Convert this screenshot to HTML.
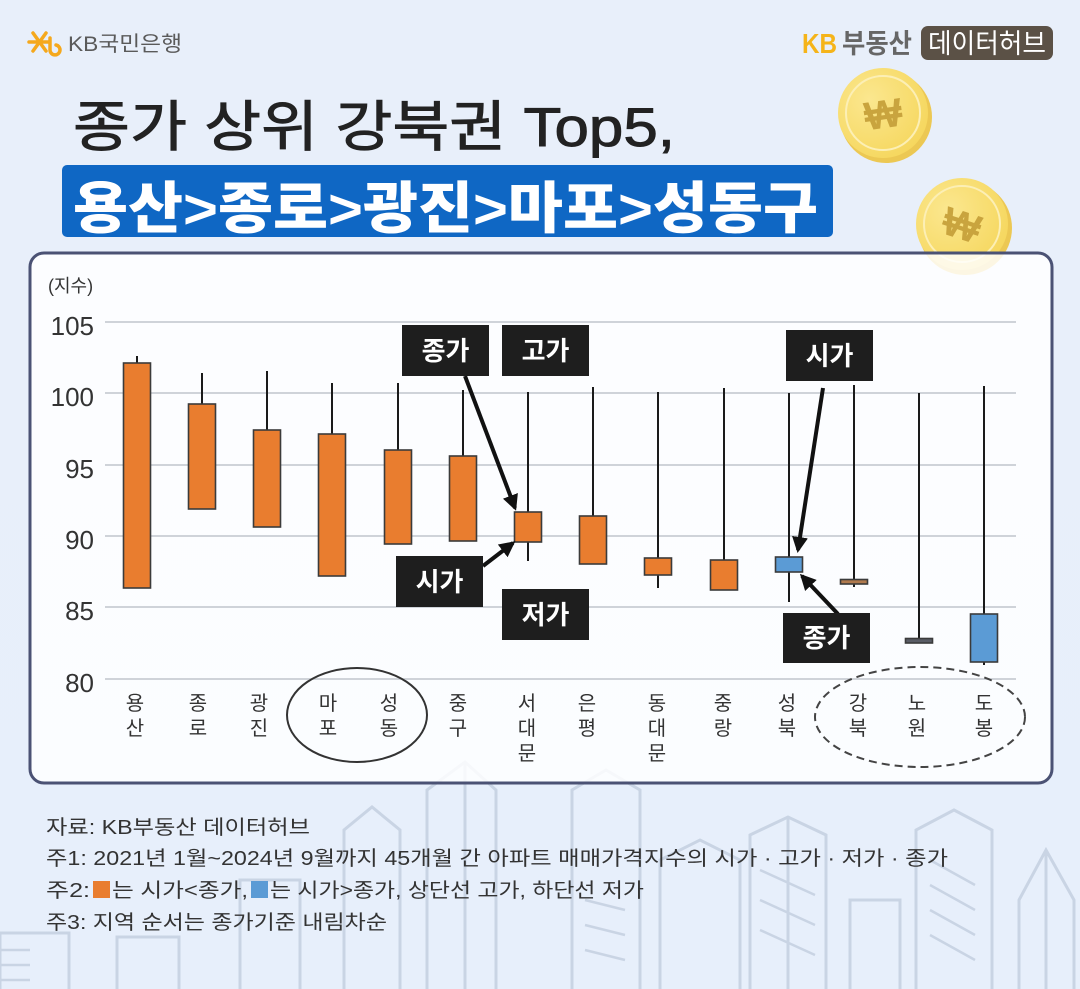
<!DOCTYPE html>
<html>
<head>
<meta charset="utf-8">
<style>
html,body{margin:0;padding:0;}
body{width:1080px;height:989px;overflow:hidden;background:#e9f0fb;}
svg{display:block;}
text{font-family:"Liberation Sans","Noto Sans CJK KR",sans-serif;}
</style>
</head>
<body>
<svg width="1080" height="989" viewBox="0 0 1080 989" xmlns="http://www.w3.org/2000/svg">
<defs>
  <linearGradient id="bg" x1="0" y1="0" x2="0" y2="1">
    <stop offset="0" stop-color="#e8effa"/>
    <stop offset="1" stop-color="#e7effb"/>
  </linearGradient>
  <radialGradient id="coin" cx="0.35" cy="0.35" r="0.8">
    <stop offset="0" stop-color="#fbe78f"/>
    <stop offset="1" stop-color="#f5d558"/>
  </radialGradient>
  <marker id="ah" markerWidth="16" markerHeight="16" refX="13" refY="8" orient="auto" markerUnits="userSpaceOnUse">
    <path d="M0,0 L16,8 L0,16 Z" fill="#111"/>
  </marker>
</defs>
<rect x="0" y="0" width="1080" height="989" fill="url(#bg)"/>

<!-- building line art -->
<g fill="none" stroke="#c9d4e4" stroke-width="3">
  <polyline points="427,989 427,790 465,762 496,790 496,989"/>
  <line x1="465" y1="762" x2="465" y2="989"/>
  <polyline points="572,989 572,790 606,770 640,790 640,989"/>
  <polyline points="750,989 750,835 788,817 826,835 826,989"/>
  <line x1="788" y1="817" x2="788" y2="989"/>
  <polyline points="916,989 916,830 954,810 992,830 992,989"/>
  <polyline points="1019,989 1019,900 1046,850 1074,900 1074,989"/>
  <line x1="1046" y1="850" x2="1046" y2="989"/>
  <polyline points="117,989 117,937 179,937 179,989"/>
  <polyline points="0,989 0,933 69,933 69,989"/>
  <polyline points="344,989 344,830 372,807 400,830 400,989"/>
  <polyline points="240,989 240,880 300,880 300,989"/>
  <polyline points="660,989 660,860 700,840 740,860 740,989"/>
  <polyline points="850,989 850,900 900,900 900,989"/>
  <g stroke-width="2.5">
    <line x1="0" y1="950" x2="30" y2="950"/><line x1="0" y1="965" x2="30" y2="965"/><line x1="0" y1="980" x2="30" y2="980"/>
    <line x1="585" y1="900" x2="625" y2="910"/><line x1="585" y1="925" x2="625" y2="935"/><line x1="585" y1="950" x2="625" y2="960"/>
    <line x1="930" y1="860" x2="975" y2="885"/><line x1="930" y1="885" x2="975" y2="910"/><line x1="930" y1="910" x2="975" y2="935"/><line x1="930" y1="935" x2="975" y2="960"/>
    <line x1="760" y1="870" x2="815" y2="895"/><line x1="760" y1="900" x2="815" y2="925"/><line x1="760" y1="930" x2="815" y2="955"/>
  </g>
</g>

<!-- KB 국민은행 logo -->
<g stroke="#f5a81c" stroke-width="3.5" stroke-linecap="round" fill="none">
  <line x1="29" y1="42" x2="49" y2="42"/>
  <line x1="33" y1="33" x2="46" y2="51"/>
  <line x1="46" y1="33" x2="33" y2="51"/>
  <path d="M50,38 L50,50 A5,5 0 1 0 56,45"/>
</g>
<text x="68" y="51" font-size="21" fill="#5a5a5a" textLength="114" lengthAdjust="spacingAndGlyphs">KB국민은행</text>

<!-- KB 부동산 데이터허브 -->
<text x="802" y="53" font-size="28" font-weight="bold" fill="#f5b419" textLength="35" lengthAdjust="spacingAndGlyphs">KB</text>
<text x="842" y="53" font-size="27" font-weight="bold" fill="#666" textLength="70" lengthAdjust="spacingAndGlyphs">부동산</text>
<rect x="921" y="26" width="132" height="34" rx="7" fill="#5b5146"/>
<text x="928" y="53" font-size="27" fill="#fff" textLength="118" lengthAdjust="spacingAndGlyphs">데이터허브</text>

<!-- Title -->
<text x="73" y="146" font-size="55" font-weight="400" fill="#222" stroke="#222" stroke-width="0.9" textLength="602" lengthAdjust="spacingAndGlyphs">종가 상위 강북권 Top5,</text>
<rect x="62" y="165" width="771" height="72" rx="5" fill="#0f67c4"/>
<text x="73" y="228" font-size="56" font-weight="900" fill="#fff" textLength="745" lengthAdjust="spacingAndGlyphs">용산&gt;종로&gt;광진&gt;마포&gt;성동구</text>

<!-- coins -->
<g>
  <circle cx="886" cy="117" r="46" fill="#ecc853"/>
  <circle cx="883" cy="113" r="45" fill="url(#coin)"/>
  <circle cx="883" cy="113" r="37" fill="none" stroke="#fcefb5" stroke-width="2"/>
  <text x="883" y="128" font-size="40" font-weight="bold" fill="#c9a43e" text-anchor="middle" font-family="DejaVu Sans, sans-serif" transform="rotate(-8 883 113)">₩</text>
</g>
<g>
  <circle cx="965" cy="228" r="47" fill="#ecc853"/>
  <circle cx="962" cy="224" r="46" fill="url(#coin)"/>
  <circle cx="962" cy="224" r="38" fill="none" stroke="#fcefb5" stroke-width="2"/>
  <text x="962" y="239" font-size="40" font-weight="bold" fill="#c9a43e" text-anchor="middle" font-family="DejaVu Sans, sans-serif" transform="rotate(18 962 224)">₩</text>
</g>

<!-- Chart box -->
<rect x="30" y="253" width="1022" height="530" rx="14" fill="#ffffff" fill-opacity="0.84" stroke="#4b5274" stroke-width="3"/>

<text x="48" y="292" font-size="18" fill="#333">(지수)</text>

<!-- gridlines -->
<g stroke="#cfd3d9" stroke-width="2">
  <line x1="105" y1="322" x2="1016" y2="322"/>
  <line x1="105" y1="393" x2="1016" y2="393"/>
  <line x1="105" y1="465" x2="1016" y2="465"/>
  <line x1="105" y1="536" x2="1016" y2="536"/>
  <line x1="105" y1="607" x2="1016" y2="607"/>
  <line x1="105" y1="679" x2="1016" y2="679"/>
</g>
<g font-size="26" fill="#333" text-anchor="end">
  <text x="94" y="335">105</text>
  <text x="94" y="406">100</text>
  <text x="94" y="478">95</text>
  <text x="94" y="549">90</text>
  <text x="94" y="620">85</text>
  <text x="94" y="692">80</text>
</g>

<!-- wicks -->
<g stroke="#1a1a1a" stroke-width="2">
  <line x1="137" y1="356" x2="137" y2="588"/>
  <line x1="202" y1="373" x2="202" y2="509"/>
  <line x1="267" y1="371" x2="267" y2="527"/>
  <line x1="332" y1="383" x2="332" y2="576"/>
  <line x1="398" y1="383" x2="398" y2="544"/>
  <line x1="463" y1="390" x2="463" y2="541"/>
  <line x1="528" y1="392" x2="528" y2="561"/>
  <line x1="593" y1="387" x2="593" y2="564"/>
  <line x1="658" y1="392" x2="658" y2="588"/>
  <line x1="724" y1="388" x2="724" y2="590"/>
  <line x1="789" y1="393" x2="789" y2="602"/>
  <line x1="854" y1="385" x2="854" y2="587"/>
  <line x1="919" y1="393" x2="919" y2="643"/>
  <line x1="984" y1="386" x2="984" y2="665"/>
</g>
<!-- bodies -->
<g stroke="#3b3b3b" stroke-width="1.6">
  <rect x="123.5" y="363" width="27" height="225" fill="#e97d2f"/>
  <rect x="188.5" y="404" width="27" height="105" fill="#e97d2f"/>
  <rect x="253.5" y="430" width="27" height="97" fill="#e97d2f"/>
  <rect x="318.5" y="434" width="27" height="142" fill="#e97d2f"/>
  <rect x="384.5" y="450" width="27" height="94" fill="#e97d2f"/>
  <rect x="449.5" y="456" width="27" height="85" fill="#e97d2f"/>
  <rect x="514.5" y="512" width="27" height="30" fill="#e97d2f"/>
  <rect x="579.5" y="516" width="27" height="48" fill="#e97d2f"/>
  <rect x="644.5" y="558" width="27" height="17" fill="#e97d2f"/>
  <rect x="710.5" y="560" width="27" height="30" fill="#e97d2f"/>
  <rect x="775.5" y="557" width="27" height="15" fill="#5b9bd5"/>
  <rect x="840.5" y="579.5" width="27" height="4.5" fill="#b07a4e"/>
  <rect x="905.5" y="638.5" width="27" height="4.5" fill="#5a5d66"/>
  <rect x="970.5" y="614" width="27" height="48" fill="#5b9bd5"/>
</g>

<!-- x labels -->
<g font-size="20" fill="#333" text-anchor="middle">
  <text x="135" y="710">용</text><text x="135" y="735">산</text>
  <text x="198" y="710">종</text><text x="198" y="735">로</text>
  <text x="259" y="710">광</text><text x="259" y="735">진</text>
  <text x="328" y="710">마</text><text x="328" y="735">포</text>
  <text x="389" y="710">성</text><text x="389" y="735">동</text>
  <text x="458" y="710">중</text><text x="458" y="735">구</text>
  <text x="527" y="710">서</text><text x="527" y="735">대</text><text x="527" y="760">문</text>
  <text x="587" y="710">은</text><text x="587" y="735">평</text>
  <text x="657" y="710">동</text><text x="657" y="735">대</text><text x="657" y="760">문</text>
  <text x="723" y="710">중</text><text x="723" y="735">랑</text>
  <text x="787" y="710">성</text><text x="787" y="735">북</text>
  <text x="858" y="710">강</text><text x="858" y="735">북</text>
  <text x="917" y="710">노</text><text x="917" y="735">원</text>
  <text x="984" y="710">도</text><text x="984" y="735">봉</text>
</g>

<!-- ellipses -->
<ellipse cx="357" cy="715" rx="70" ry="47" fill="none" stroke="#333" stroke-width="2"/>
<ellipse cx="920" cy="717" rx="105" ry="50" fill="none" stroke="#444" stroke-width="2" stroke-dasharray="8 5"/>

<!-- annotation arrows -->
<g stroke="#111" stroke-width="4" fill="none">
  <line x1="465" y1="376" x2="515" y2="508" marker-end="url(#ah)"/>
  <line x1="483" y1="566" x2="513" y2="543" marker-end="url(#ah)"/>
  <line x1="823" y1="388" x2="798" y2="550" marker-end="url(#ah)"/>
  <line x1="838" y1="614" x2="802" y2="576" marker-end="url(#ah)"/>
</g>

<!-- annotation boxes -->
<g>
  <rect x="402" y="325" width="87" height="51" fill="#1e1e1e"/>
  <rect x="502" y="325" width="87" height="51" fill="#1e1e1e"/>
  <rect x="396" y="556" width="87" height="51" fill="#1e1e1e"/>
  <rect x="502" y="589" width="87" height="51" fill="#1e1e1e"/>
  <rect x="786" y="330" width="87" height="51" fill="#1e1e1e"/>
  <rect x="783" y="613" width="87" height="50" fill="#1e1e1e"/>
</g>
<g font-size="26" font-weight="bold" fill="#fff" text-anchor="middle">
  <text x="445.5" y="360">종가</text>
  <text x="545.5" y="360">고가</text>
  <text x="439.5" y="591">시가</text>
  <text x="545.5" y="624">저가</text>
  <text x="829.5" y="365">시가</text>
  <text x="826.5" y="647">종가</text>
</g>

<!-- footer -->
<g font-size="20" fill="#333">
  <text x="46" y="834" textLength="264" lengthAdjust="spacingAndGlyphs">자료: KB부동산 데이터허브</text>
  <text x="46" y="865" textLength="902" lengthAdjust="spacingAndGlyphs">주1: 2021년 1월~2024년 9월까지 45개월 간 아파트 매매가격지수의 시가 · 고가 · 저가 · 종가</text>
  <text x="46" y="897" textLength="44" lengthAdjust="spacingAndGlyphs">주2:</text>
  <text x="112" y="897" textLength="136" lengthAdjust="spacingAndGlyphs">는 시가&lt;종가,</text>
  <text x="270" y="897" textLength="374" lengthAdjust="spacingAndGlyphs">는 시가&gt;종가, 상단선 고가, 하단선 저가</text>
  <text x="46" y="929" textLength="341" lengthAdjust="spacingAndGlyphs">주3: 지역 순서는 종가기준 내림차순</text>
</g>
<rect x="93" y="881" width="17" height="17" fill="#e97d2f"/>
<rect x="251" y="881" width="17" height="17" fill="#5b9bd5"/>
</svg>
</body>
</html>
